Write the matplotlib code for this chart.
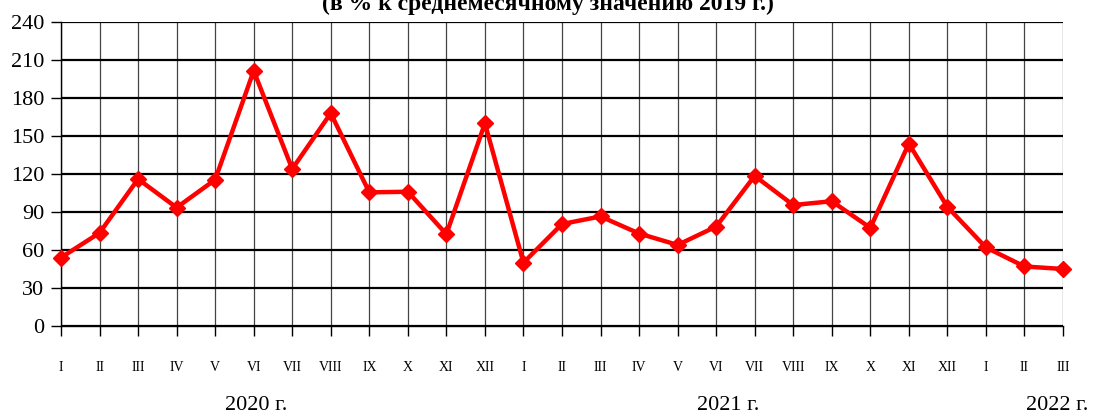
import matplotlib.pyplot as plt

# monthly values, % of 2019 monthly average
months = ["I", "II", "III", "IV", "V", "VI", "VII", "VIII", "IX", "X", "XI", "XII",
          "I", "II", "III", "IV", "V", "VI", "VII", "VIII", "IX", "X", "XI", "XII",
          "I", "II", "III"]
values = [54, 73.5, 116, 93.5, 115.5, 201.5, 124, 168, 105.5, 106, 72.5, 160,
          50, 80.5, 86.5, 73, 64, 78.5, 118.5, 95.5, 98.5, 77.5, 144, 94,
          62, 47, 45]
years = ["2020 г.", "2021 г.", "2022 г."]
title = "(в % к среднемесячному значению 2019 г.)"

plt.rcParams["font.family"] = ["Liberation Serif", "DejaVu Serif"]

fig = plt.figure(figsize=(10.93, 4.16), dpi=100)
ax = fig.add_axes([61 / 1093, 90 / 416, 1002 / 1093, 304 / 416])

x = list(range(len(values)))
ax.plot(x, values, color="#ff0000", lw=3.2, marker="D", ms=8,
        solid_joinstyle="miter", clip_on=False, zorder=5)

ax.set_xlim(0, len(values) - 1)
ax.set_ylim(0, 240)
ax.set_yticks(range(0, 241, 30))
ax.set_xticks(x)
ax.set_xticklabels(months, fontsize=10)
ax.tick_params(axis="y", labelsize=16, length=7, width=1, pad=5)
ax.tick_params(axis="x", length=7, width=1, pad=18)

ax.grid(axis="y", color="black", lw=1.6)
ax.grid(axis="x", color="#444444", lw=0.9)
ax.set_axisbelow(True)
for side in ["top", "right"]:
    ax.spines[side].set_visible(False)
ax.spines["left"].set_linewidth(1)
ax.spines["bottom"].set_linewidth(1)

fig.text(256 / 1093, 1 - 405 / 416, years[0], fontsize=16, ha="center", va="center")
fig.text(728 / 1093, 1 - 405 / 416, years[1], fontsize=16, ha="center", va="center")
fig.text(1057 / 1093, 1 - 405 / 416, years[2], fontsize=16, ha="center", va="center")
fig.text(548 / 1093, 1 - 4 / 416, title, fontsize=17, fontweight="bold",
         ha="center", va="center")

fig.savefig("out.png", dpi=100)
